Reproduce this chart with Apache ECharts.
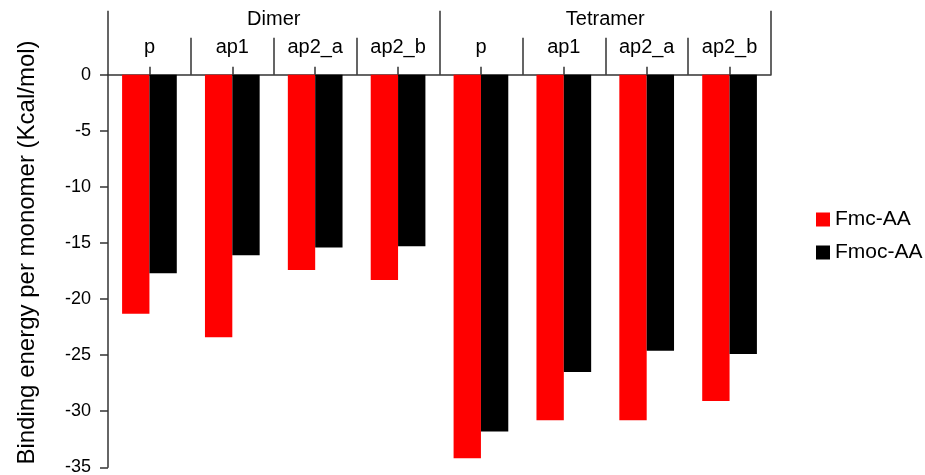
<!DOCTYPE html>
<html>
<head>
<meta charset="utf-8">
<script src="https://cdn.jsdelivr.net/npm/echarts@6/dist/echarts.min.js"></script>
<style>
html,body{margin:0;padding:0;background:#fff;}
#c{width:925px;height:475px;}
</style>
</head>
<body>
<div id="c"></div>
<script>
var groups = ['Dimer', 'Tetramer'];
var categories = ['p', 'ap1', 'ap2_a', 'ap2_b', 'p', 'ap1', 'ap2_a', 'ap2_b'];
var fmcAA = [-21.3, -23.4, -17.4, -18.3, -34.2, -30.8, -30.8, -29.1];
var fmocAA = [-17.7, -16.1, -15.4, -15.3, -31.8, -26.5, -24.6, -24.9];
var yTicks = [0, -5, -10, -15, -20, -25, -30, -35];

var font = 'Arial, "Liberation Sans", sans-serif';
var lineColor = '#333';
var chart = echarts.init(document.getElementById('c'));
chart.setOption({
  animation: false,
  grid: {left: 108, right: 154, top: 74.7, bottom: 7.7, containLabel: false, outerBoundsMode: 'none'},
  legend: {
    orient: 'vertical', left: 811, top: 204,
    icon: 'rect',
    itemWidth: 14, itemHeight: 14, itemGap: 12,
    textStyle: {fontFamily: font, fontSize: 21, color: '#000'},
    data: ['Fmc-AA', 'Fmoc-AA']
  },
  xAxis: [
    {
      type: 'category', position: 'top', data: categories,
      axisLine: {show: true, onZero: false, lineStyle: {color: lineColor, width: 1.5}},
      axisTick: {show: true, length: 37, lineStyle: {color: lineColor, width: 1.5}},
      axisLabel: {margin: 17, fontFamily: font, fontSize: 20, color: '#000', interval: 0}
    },
    {
      type: 'category', position: 'top', data: groups,
      axisLine: {show: false, onZero: false},
      axisTick: {show: true, length: 64, lineStyle: {color: lineColor, width: 1.5}},
      axisLabel: {margin: 45, fontFamily: font, fontSize: 20, color: '#000', interval: 0}
    },
    {
      type: 'category', position: 'top', data: categories,
      axisLine: {show: false, onZero: false},
      axisTick: {show: true, alignWithLabel: true, length: 8, lineStyle: {color: lineColor, width: 1.5}},
      axisLabel: {show: false}
    }
  ],
  yAxis: {
    type: 'value', min: -35, max: 0, interval: 5,
    name: 'Binding energy per monomer (Kcal/mol)',
    nameLocation: 'middle', nameGap: 69,
    nameTextStyle: {fontFamily: font, fontSize: 24, color: '#000', padding: [0, 0, 0, 37]},
    axisLine: {show: true, lineStyle: {color: lineColor, width: 1.5}},
    axisTick: {show: true, length: 8, lineStyle: {color: lineColor, width: 1.5}},
    axisLabel: {margin: 17, fontFamily: font, fontSize: 18, color: '#000',
      formatter: function (v) { return yTicks.indexOf(v) >= 0 ? String(v) : ''; }},
    splitLine: {show: false}
  },
  series: [
    {name: 'Fmc-AA', type: 'bar', xAxisIndex: 0, data: fmcAA, barGap: '0%', barCategoryGap: '34%',
     itemStyle: {color: '#ff0000'}},
    {name: 'Fmoc-AA', type: 'bar', xAxisIndex: 0, data: fmocAA, barGap: '0%', barCategoryGap: '34%',
     itemStyle: {color: '#000000'}}
  ]
});
</script>
</body>
</html>
